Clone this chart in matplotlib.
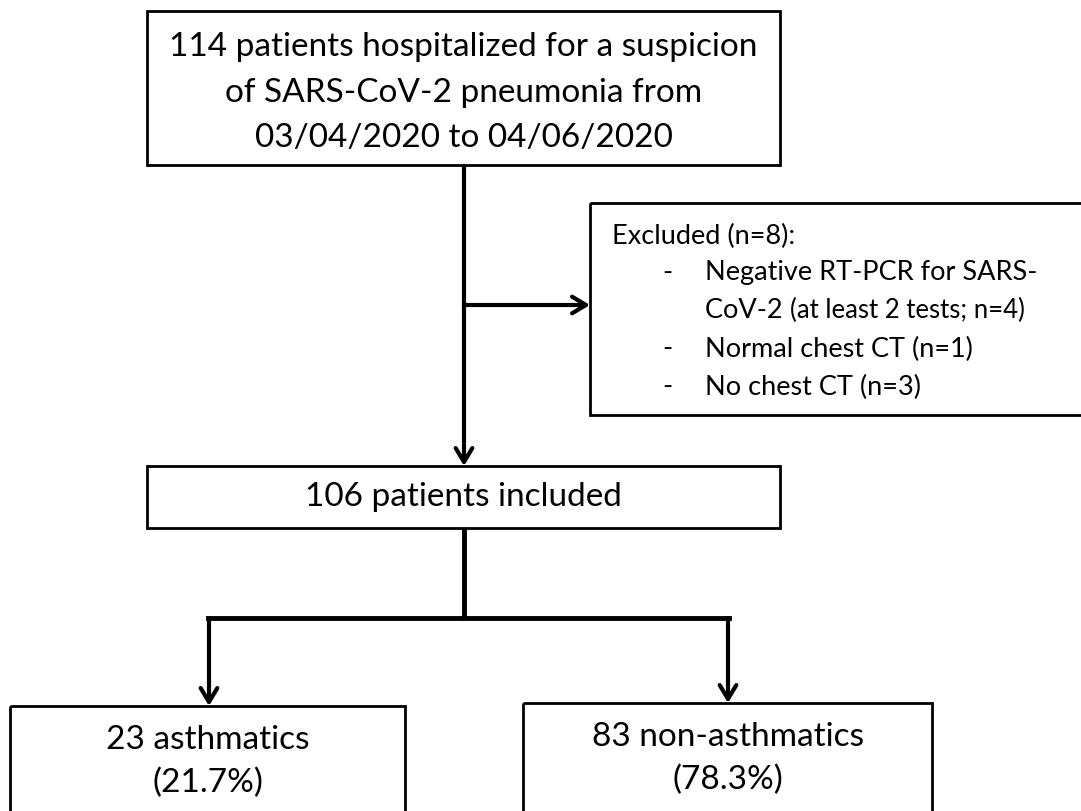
import matplotlib.pyplot as plt
from matplotlib.patches import Rectangle

# flowchart counts
n_total = 114
date_from, date_to = "03/04/2020", "04/06/2020"
excl_reasons = ["Negative RT-PCR for SARS-", "Normal chest CT", "No chest CT"]
excl_counts = [4, 1, 3]
n_included = 106
group_names = ["asthmatics", "non-asthmatics"]
group_counts = [23, 83]

plt.rcParams['font.family'] = ['Lato', 'DejaVu Sans']

W, H = 1081, 812
fig = plt.figure(figsize=(W / 100, H / 100), dpi=100)
ax = fig.add_axes([0, 0, 1, 1])
ax.set_xlim(0, W)
ax.set_ylim(H, 0)
ax.axis("off")

box_lw = 2.0
line_lw = 3.0


def box(x0, y0, x1, y1):
    ax.add_patch(Rectangle((x0, y0), x1 - x0, y1 - y0, fill=False,
                           edgecolor="black", linewidth=box_lw, zorder=2))


def arrow(x0, y0, x1, y1):
    ax.annotate("", xy=(x1, y1), xytext=(x0, y0),
                arrowprops=dict(arrowstyle="->,head_length=1.0,head_width=0.6",
                                lw=line_lw, color="black", shrinkA=0, shrinkB=0))


big = 24

# top box
box(147, 12, 780, 166)
top_lines = [f"{n_total} patients hospitalized for a suspicion",
             "of SARS-CoV-2 pneumonia from",
             f"{date_from} to {date_to}"]
for i, s in enumerate(top_lines):
    ax.text(463.5, 47 + 45.5 * i, s, ha="center", va="center", fontsize=big)

# excluded box (runs off the right edge)
box(590, 204, W + 10, 416)
small = 19.5
ax.text(612, 236, f"Excluded (n={sum(excl_counts)}):", ha="left", va="center",
        fontsize=small)
ex_y = [273, 311, 349, 387]
ax.text(662, ex_y[0], "-", ha="left", va="center", fontsize=small)
ax.text(705, ex_y[0], excl_reasons[0], ha="left", va="center", fontsize=small)
t = ax.text(705, ex_y[1], "CoV-2 ", ha="left", va="center", fontsize=small)
ax.annotate(f"(at least 2 tests; n={excl_counts[0]})", xy=(1, 0), xycoords=t,
            ha="left", va="bottom", fontsize=small - 1)
for k in range(1, 3):
    ax.text(662, ex_y[k + 1], "-", ha="left", va="center", fontsize=small)
    ax.text(705, ex_y[k + 1], f"{excl_reasons[k]} (n={excl_counts[k]})",
            ha="left", va="center", fontsize=small)

# connectors top -> included, side arrow to excluded
ax.plot([464, 464], [166, 306], color="black", lw=line_lw, solid_capstyle="butt")
arrow(464, 306, 590, 306)
arrow(464, 305, 464, 467)

# included box
box(147, 467, 780, 529)
ax.text(463.5, 497, f"{n_included} patients included", ha="center", va="center",
        fontsize=big)

# split
ax.plot([464, 464], [529, 619], color="black", lw=line_lw + 0.5, solid_capstyle="butt")
ax.plot([208, 729], [619, 619], color="black", lw=line_lw + 0.5, solid_capstyle="projecting")
arrow(209, 619, 209, 707)
arrow(728, 619, 728, 704)

# bottom boxes
box(10, 707, 405, H + 20)
box(523, 704, 932, H + 20)
for cx, cy, name, n in [(207.5, 740, group_names[0], group_counts[0]),
                        (727.5, 737, group_names[1], group_counts[1])]:
    ax.text(cx, cy, f"{n} {name}", ha="center", va="center", fontsize=big)
    ax.text(cx, cy + 43, f"({100 * n / n_included:.1f}%)", ha="center",
            va="center", fontsize=big)

fig.savefig("out.png", dpi=100)
